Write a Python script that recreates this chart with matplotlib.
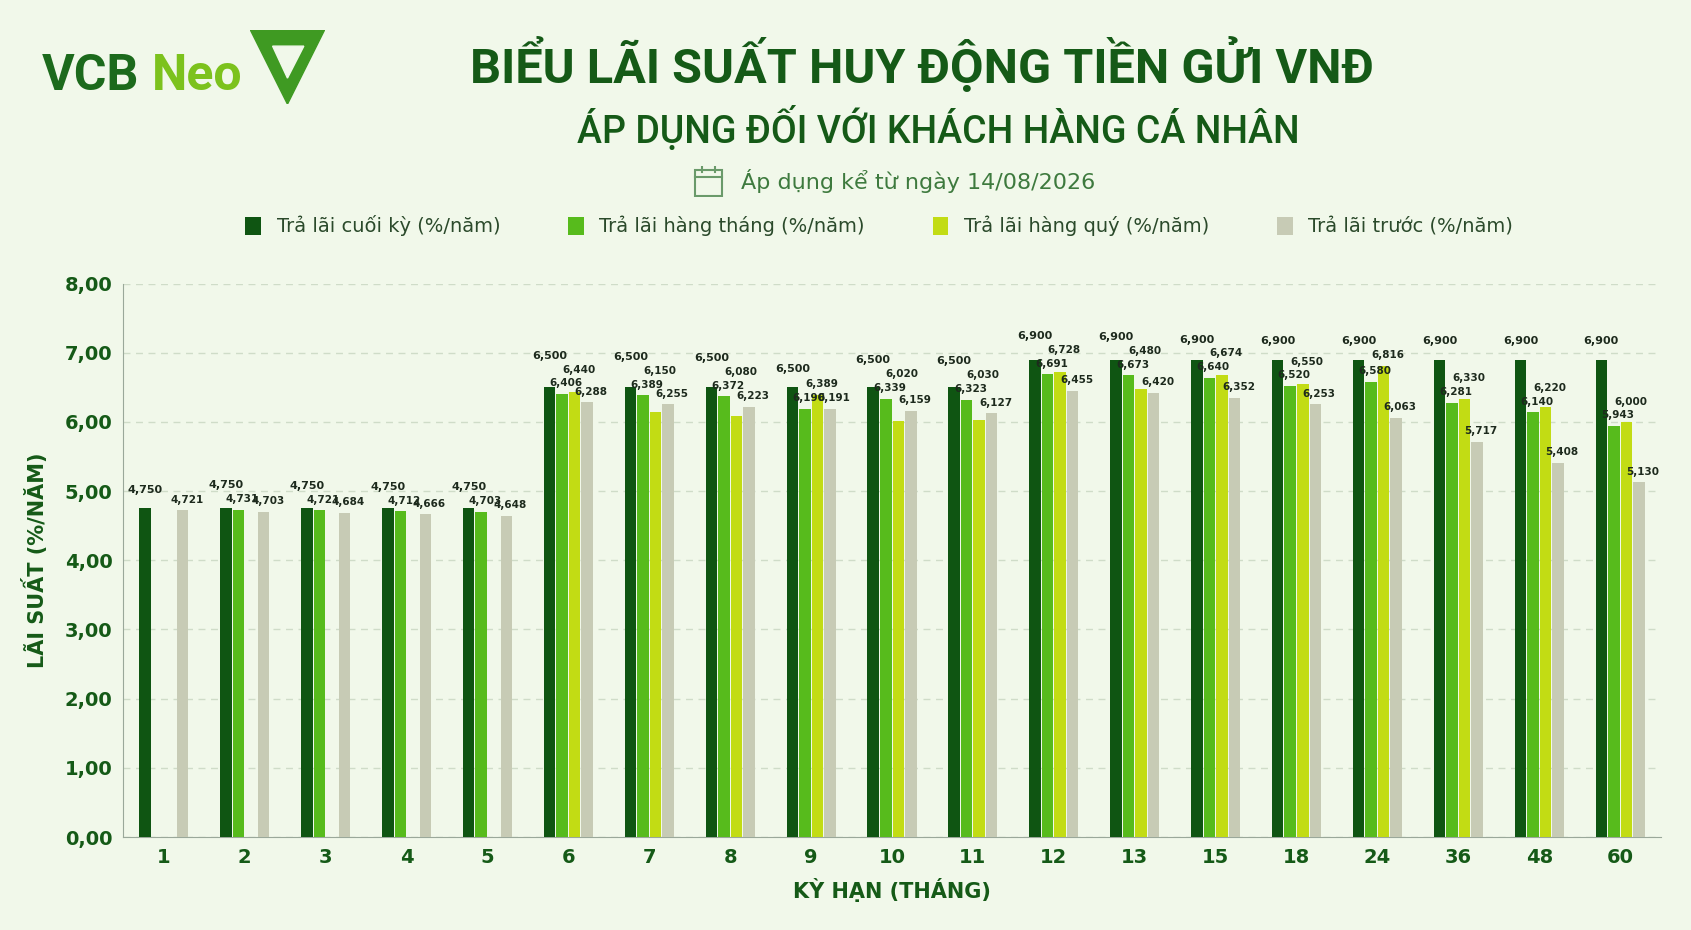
import matplotlib
matplotlib.use("Agg")
import matplotlib.pyplot as plt
import numpy as np
from matplotlib.patches import Polygon

terms = ["1","2","3","4","5","6","7","8","9","10","11","12","13","15","18","24","36","48","60"]
cuoi_ky = [4.750,4.750,4.750,4.750,4.750,6.500,6.500,6.500,6.500,6.500,6.500,6.900,6.900,6.900,6.900,6.900,6.900,6.900,6.900]
hang_thang = [np.nan,4.731,4.721,4.712,4.703,6.406,6.389,6.372,6.190,6.339,6.323,6.691,6.673,6.640,6.520,6.580,6.281,6.140,5.943]
hang_quy = [np.nan,np.nan,np.nan,np.nan,np.nan,6.440,6.150,6.080,6.389,6.020,6.030,6.728,6.480,6.674,6.550,6.816,6.330,6.220,6.000]
tra_truoc = [4.721,4.703,4.684,4.666,4.648,6.288,6.255,6.223,6.191,6.159,6.127,6.455,6.420,6.352,6.253,6.063,5.717,5.408,5.130]
series = [("Trả lãi cuối kỳ (%/năm)", cuoi_ky, "#0f5512"),
          ("Trả lãi hàng tháng (%/năm)", hang_thang, "#57bb1c"),
          ("Trả lãi hàng quý (%/năm)", hang_quy, "#c2dc14"),
          ("Trả lãi trước (%/năm)", tra_truoc, "#c7cbb5")]

bg = "#f1f8ea"
dark = "#155a17"
fig = plt.figure(figsize=(16.91, 9.30), dpi=100, facecolor=bg)
ax = fig.add_axes([0.073, 0.10, 0.909, 0.595], facecolor=bg)

x = np.arange(len(terms))
w = 0.155
offs = [-1.5*w, -0.5*w, 0.5*w, 1.5*w]
arrs = []
for (name, vals, col), o in zip(series, offs):
    v = np.array(vals, dtype=float)
    arrs.append(v)
    ax.bar(x + o, v, w*0.92, color=col, label=name, zorder=3)

gap = 0.2
for i in range(len(terms)):
    c, t, q, tr = (a[i] for a in arrs)
    ys = [c + 0.2, None, None, None]
    prev = -1
    if not np.isnan(t):
        ys[1] = t + 0.08
        prev = ys[1]
    if not np.isnan(q):
        ys[2] = max(q + 0.08, prev + gap)
    y_tr = tr + 0.08
    if ys[2] is not None and abs(ys[2] - y_tr) < gap:
        y_tr = ys[2] - gap if ys[2] - gap > tr + 0.03 else ys[2] + gap
    ys[3] = y_tr
    if ys[1] is not None and abs(ys[0] - ys[1]) < gap:
        ys[0] = ys[1] + gap
    if ys[2] is not None and abs(ys[0] - ys[2]) < gap:
        ys[0] = ys[2] + gap
    for k, (val, y) in enumerate(zip((c, t, q, tr), ys)):
        if y is None or np.isnan(val):
            continue
        ax.text(x[i] + offs[k] + (0 if k == 0 else 0.05), y, f"{val:.3f}".replace(".", ","),
                ha="center", va="bottom", fontsize=8 if k == 0 else 7.5,
                fontweight="bold", color="#1d2a1d", zorder=4)

ax.set_ylim(0, 8)
ax.set_xlim(-0.5, len(terms) - 0.5)
ax.set_yticks(np.arange(0, 9, 1))
ax.set_yticklabels([f"{t:.2f}".replace(".", ",") for t in range(9)], fontsize=14, fontweight="bold", color=dark)
ax.set_xticks(x)
ax.set_xticklabels(terms, fontsize=14, fontweight="bold", color=dark)
ax.tick_params(length=0, pad=8)
ax.yaxis.grid(True, linestyle=(0, (5, 4)), color="#cfdcc8", lw=1, zorder=0)
for s in ["top", "right"]:
    ax.spines[s].set_visible(False)
ax.spines["left"].set_color("#9aa89a")
ax.spines["bottom"].set_color("#9aa89a")
ax.set_xlabel("KỲ HẠN (THÁNG)", fontsize=15, fontweight="bold", color=dark, labelpad=8)
ax.set_ylabel("LÃI SUẤT (%/NĂM)", fontsize=15, fontweight="bold", color=dark, labelpad=12)

# titles
fig.text(0.545, 0.93, "BIỂU LÃI SUẤT HUY ĐỘNG TIỀN GỬI VNĐ", ha="center", va="center",
         fontsize=35, fontweight="bold", color=dark, family="Roboto")
fig.text(0.555, 0.862, "ÁP DỤNG ĐỐI VỚI KHÁCH HÀNG CÁ NHÂN", ha="center", va="center",
         fontsize=27, color=dark, family="Roboto", fontweight="medium")
fig.text(0.438, 0.805, "Áp dụng kể từ ngày 14/08/2026", ha="left", va="center",
         fontsize=16, color="#3e7a3e")
# calendar icon
cal = fig.add_axes([0.41, 0.788, 0.018, 0.034]); cal.axis("off")
cal.add_patch(plt.Rectangle((0.05, 0.05), 0.9, 0.8, fill=False, ec="#6a9a6a", lw=1.5))
cal.plot([0.05, 0.95], [0.65, 0.65], color="#6a9a6a", lw=1.5)
for px in [0.3, 0.7]:
    cal.plot([px, px], [0.78, 0.98], color="#6a9a6a", lw=1.5)
cal.set_xlim(0, 1); cal.set_ylim(0, 1)

# logo
fig.text(0.025, 0.918, "VCB", fontsize=36, fontweight="bold", color="#1c6a1c", va="center", family="Roboto")
fig.text(0.090, 0.918, "Neo", fontsize=36, fontweight="bold", color="#7cc21d", va="center", family="Roboto")
lg = fig.add_axes([0.148, 0.888, 0.044, 0.08]); lg.axis("off")
lg.add_patch(Polygon([[0, 1], [1, 1], [0.5, 0]], closed=True, color="#3f9a22"))
lg.add_patch(Polygon([[0.3, 0.78], [0.72, 0.78], [0.5, 0.35]], closed=True, color=bg))
lg.set_xlim(0, 1); lg.set_ylim(0, 1)

leg = fig.legend(loc="center", bbox_to_anchor=(0.52, 0.757), ncol=4, frameon=False,
                 fontsize=14, handlelength=0.8, handleheight=1.1, columnspacing=3.5,
                 labelcolor="#2b4a2b")

fig.savefig("out.png", dpi=100, facecolor=bg)
